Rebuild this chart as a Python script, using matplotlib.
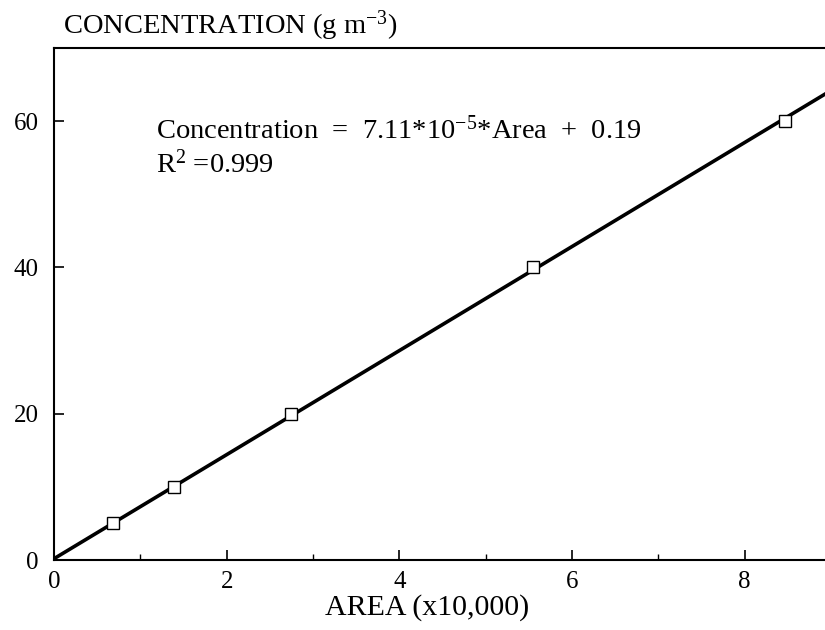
import matplotlib
matplotlib.use("Agg")
from matplotlib import pyplot as plt
from matplotlib.ticker import MultipleLocator
import numpy as np

plt.rcParams['font.family'] = ['Liberation Serif', 'DejaVu Serif']
plt.rcParams['mathtext.fontset'] = 'custom'
plt.rcParams['mathtext.rm'] = 'Liberation Serif'
plt.rcParams['mathtext.it'] = 'Liberation Serif:italic'

# calibration standards
area = [0.68, 1.39, 2.75, 5.55, 8.47]      # peak area (x10,000)
conc = [5, 10, 20, 40, 60]                  # g m-3

# fitted line in plotted units
slope = 7.11
intercept = 0.19

fig = plt.figure(figsize=(8.25, 6.3), dpi=100)
ax = fig.add_axes([0.0655, 0.111, 0.9345, 0.813])

x_fit = np.array([0, 8.93])
ax.plot(x_fit, slope * x_fit + intercept, color='black', lw=2.6, zorder=2)
ax.plot(area, conc, 's', ms=8, mfc='white', mec='black', mew=1.0, zorder=3)

ax.set_xlim(0, 8.93)
ax.set_ylim(0, 70)
ax.xaxis.set_major_locator(MultipleLocator(2))
ax.xaxis.set_minor_locator(MultipleLocator(1))
ax.yaxis.set_major_locator(MultipleLocator(20))
ax.tick_params(which='both', direction='in', labelsize=18, top=False, right=False)
ax.tick_params(which='major', length=7, width=1.2)
ax.tick_params(which='minor', length=4, width=1.0)
ax.tick_params(axis='x', pad=8)
ax.tick_params(axis='y', pad=11)
for s in ['left', 'bottom', 'top']:
    ax.spines[s].set_linewidth(1.5)
ax.spines['right'].set_visible(False)

ax.set_xlabel('AREA (x10,000)', fontsize=21.5, va='baseline')
ax.xaxis.set_label_coords(0.484, -0.107)
fig.text(0.076, 0.946, r'CONCENTRATION (g m$^{\mathrm{-3}}$)', fontsize=20.5, va='baseline')

ax.text(1.18, 57.6, r'Concentration  =  7.11*10$^{\mathrm{-5}}$*Area  +  0.19',
        fontsize=20.5, va='baseline')
ax.text(1.18, 53.0, r'R$^{\mathrm{2}}$ =0.999', fontsize=20.5, va='baseline')

fig.savefig('out.png', dpi=100)
